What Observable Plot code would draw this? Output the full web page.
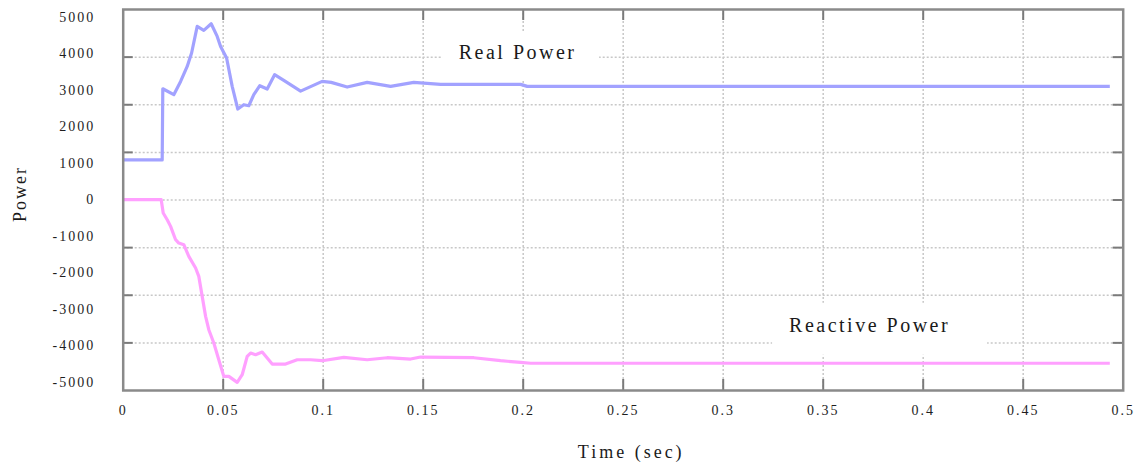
<!DOCTYPE html>
<html>
<head>
<meta charset="utf-8">
<script src="https://cdn.jsdelivr.net/npm/d3@7"></script>
<script src="https://cdn.jsdelivr.net/npm/@observablehq/plot@0.6"></script>
<style>
  html, body { margin: 0; padding: 0; background: #fff; }
  #chart { width: 1136px; height: 468px; }
  #chart svg, #chart svg text { font-family: "Liberation Serif", "Times New Roman", serif !important; }
</style>
</head>
<body>
<div id="chart"></div>
<script>
// ---- data ----
const realTime = [0, 0.0195, 0.0198, 0.0253, 0.0287, 0.032, 0.0342, 0.037, 0.0403, 0.044, 0.047, 0.0487, 0.0517, 0.0545, 0.0573, 0.0603, 0.0628, 0.0653, 0.0683, 0.072, 0.0757, 0.0803, 0.0887, 0.0995, 0.104, 0.112, 0.122, 0.1337, 0.1453, 0.1587, 0.1753, 0.1987, 0.202, 0.4933];
const realPower = [1090, 1090, 3040, 2877, 3240, 3652, 4019, 4748, 4639, 4822, 4474, 4200, 3881, 3105, 2484, 2603, 2575, 2877, 3123, 3032, 3425, 3269, 2975, 3242, 3215, 3087, 3215, 3105, 3215, 3160, 3160, 3160, 3105, 3105];

const reactiveTime = [0, 0.019, 0.02, 0.022, 0.0237, 0.0262, 0.0278, 0.0303, 0.0328, 0.0362, 0.0378, 0.0395, 0.0412, 0.0428, 0.0453, 0.0478, 0.0503, 0.0528, 0.057, 0.0595, 0.062, 0.0637, 0.0662, 0.0695, 0.072, 0.0745, 0.0812, 0.087, 0.0937, 0.0995, 0.1103, 0.122, 0.132, 0.1437, 0.1487, 0.1753, 0.1887, 0.1987, 0.2037, 0.4933];
const reactivePower = [0, 0, -365, -548, -731, -1096, -1187, -1233, -1553, -1872, -2100, -2648, -3196, -3562, -3927, -4384, -4840, -4840, -5005, -4795, -4292, -4201, -4247, -4174, -4338, -4502, -4502, -4384, -4384, -4411, -4320, -4384, -4329, -4365, -4310, -4329, -4411, -4457, -4480, -4480];

const seriesNames = ["Real Power", "Reactive Power"];
const seriesColors = ["#a2a2ff", "#ffa0ff"];

const xTicks = [0, 0.05, 0.1, 0.15, 0.2, 0.25, 0.3, 0.35, 0.4, 0.45, 0.5];
const xTickLabels = ["0", "0.05", "0.1", "0.15", "0.2", "0.25", "0.3", "0.35", "0.4", "0.45", "0.5"];
const yTicks = [5000, 4000, 3000, 2000, 1000, 0, -1000, -2000, -3000, -4000, -5000];
const yTickLabels = ["5000", "4000", "3000", "2000", "1000", "0", "-1000", "-2000", "-3000", "-4000", "-5000"];

const xDomain = [0, 0.5];
const yDomain = [-5227, 5211];

// in-chart series labels (anchor in data space)
const labelText = ["Real Power", "Reactive Power"];
const labelTime = [0.1972, 0.3732];
const labelPower = [4040, -3440];

// ---- build tables ----
const rows = (ts, vs, name) => ts.map((t, i) => ({t, v: vs[i], series: name}));
const data = [
  ...rows(realTime, realPower, seriesNames[0]),
  ...rows(reactiveTime, reactivePower, seriesNames[1])
];
const labels = labelText.map((s, i) => ({s, t: labelTime[i], v: labelPower[i]}));
const gridY = d3.range(1, 8).map(k => yDomain[0] + (yDomain[1] - yDomain[0]) * k / 8);
const gridX = xTicks.slice(1, -1);

const serif = "Liberation Serif";
const grid = {stroke: "#c8c8c8", strokeWidth: 1.5, strokeDasharray: "2,2"};
const tick = {stroke: "#7a7a7a", strokeWidth: 2};

const chart = Plot.plot({
  width: 1136,
  height: 468,
  marginLeft: 122.7,
  marginRight: 13.3,
  marginTop: 9,
  marginBottom: 78,
  x: {domain: xDomain},
  y: {domain: yDomain},
  color: {domain: seriesNames, range: seriesColors},
  style: {fontFamily: serif, background: "#fff", color: "#1e1e1e", letterSpacing: "2px"},
  marks: [
    Plot.ruleX(gridX, grid),
    Plot.ruleY(gridY, grid),
    Plot.ruleX(gridX, {...tick, insetBottom: 370}),
    Plot.ruleX(gridX, {...tick, insetTop: 370}),
    Plot.ruleY(gridY, {...tick, insetRight: 990}),
    Plot.ruleY(gridY, {...tick, insetLeft: 990}),
    Plot.rect([labels[0]], {x1: "t", x2: "t", y1: "v", y2: "v", fill: "#fff",
      insetLeft: -75, insetRight: -82, insetTop: -20, insetBottom: -29}),
    Plot.rect([labels[1]], {x1: "t", x2: "t", y1: "v", y2: "v", fill: "#fff",
      insetLeft: -97, insetRight: -118, insetTop: -22, insetBottom: -30}),
    Plot.line(data, {x: "t", y: "v", z: "series", stroke: "series", strokeWidth: 3.2,
      strokeLinejoin: "round", strokeLinecap: "butt"}),
    Plot.text(labels, {x: "t", y: "v", text: "s", fontSize: 20, fontFamily: serif, fill: "#1a1a1a"}),
    Plot.axisY(yTicks, {tickSize: 0, tickPadding: 28, fontSize: 14, fontFamily: serif, label: null,
      tickFormat: d => yTickLabels[yTicks.indexOf(d)]}),
    Plot.axisX(xTicks, {tickSize: 0, tickPadding: 15, fontSize: 14, fontFamily: serif, label: null,
      tickFormat: d => xTickLabels[xTicks.indexOf(d)]}),
    Plot.text(["Power"], {frameAnchor: "left", dx: -103, dy: 22, rotate: -90, fontSize: 18, fontFamily: serif, fill: "#1a1a1a"}),
    Plot.text(["Time (sec)"], {frameAnchor: "bottom", dx: 8, dy: 67, fontSize: 18, fontFamily: serif, fill: "#1a1a1a"}),
    Plot.frame({stroke: "#8a8a8a", strokeWidth: 2.5})
  ]
});

d3.select(chart).selectAll("text")
  .filter(function() { return this.textContent === "Time (sec)"; })
  .style("letter-spacing", "3px");
d3.select(chart).selectAll("text")
  .filter(function() { return labelText.includes(this.textContent); })
  .style("letter-spacing", "2.5px");

document.getElementById("chart").appendChild(chart);
</script>
</body>
</html>
